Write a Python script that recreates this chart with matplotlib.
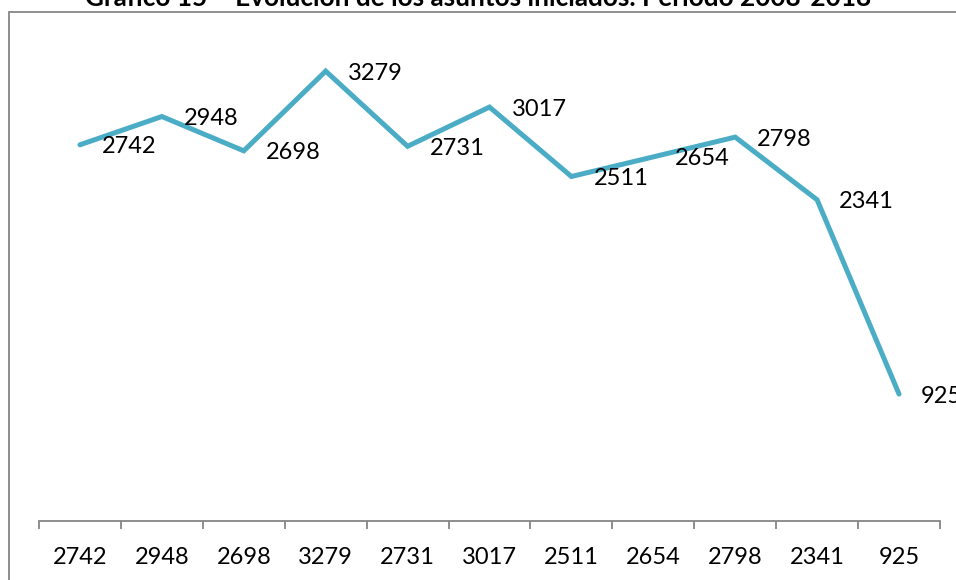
import numpy as np
import matplotlib.pyplot as plt
from matplotlib.patches import Rectangle

# Gráfico 15 - asuntos iniciados 2008-2018
anios = ["2008", "2009", "2010", "2011", "2012", "2013", "2014", "2015", "2016", "2017", "2018"]
asuntos = [2742, 2948, 2698, 3279, 2731, 3017, 2511, 2654, 2798, 2341, 925]
etiquetas_x = [str(v) for v in asuntos]

TITULO = "Gráfico 15 – Evolución de los asuntos iniciados. Período 2008-2018"
LINE_COLOR = "#4BACC6"
AXIS_COLOR = "#868686"
FONT = ["Lato", "DejaVu Sans"]

plt.rcParams['font.family'] = FONT

fig = plt.figure(figsize=(9.56, 5.8), dpi=100)
W, H = 956, 580

# marco exterior del gráfico
frame = Rectangle((9 / W, -0.1), 1.2, 1 - 12 / H + 0.1, transform=fig.transFigure,
                  fill=False, edgecolor=AXIS_COLOR, linewidth=1.3)
fig.patches.append(frame)

fig.text(0.5, 1 - 6 / H, TITULO, ha='center', va='baseline', fontsize=18.8,
         fontweight='bold', color='black')

ax = fig.add_axes([39 / W, (H - 521) / H, 901 / W, 480.2 / H])
x = np.arange(len(asuntos))
ax.plot(x, asuntos, color=LINE_COLOR, linewidth=3.6, solid_joinstyle='miter',
        solid_capstyle='round')

for xi, v in zip(x, asuntos):
    ax.annotate(str(v), (xi, v), xytext=(22, -2), textcoords='offset pixels',
                ha='left', va='center', fontsize=17, annotation_clip=False)

ax.set_xlim(-0.5, len(asuntos) - 0.5)
ax.set_ylim(0, 3500)
ax.set_facecolor('none')
for s in ['top', 'right', 'left']:
    ax.spines[s].set_visible(False)
ax.spines['bottom'].set_color(AXIS_COLOR)
ax.spines['bottom'].set_linewidth(1.3)
ax.set_yticks([])

ax.set_xticks(x)
ax.set_xticklabels(etiquetas_x, fontsize=17)
ax.tick_params(axis='x', which='major', length=0, pad=18.5)
ax.set_xticks(np.arange(-0.5, len(asuntos)), minor=True)
ax.tick_params(axis='x', which='minor', length=6, width=1.3, color=AXIS_COLOR, direction='out')

fig.savefig("out.png", dpi=100)
